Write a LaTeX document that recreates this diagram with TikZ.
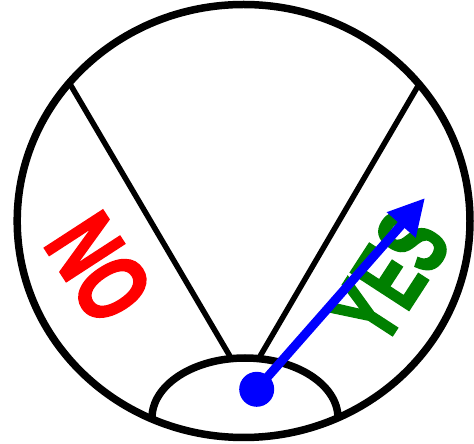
\documentclass[tikz,border=0pt]{standalone}
\usepackage{fontspec}
\setmainfont{Liberation Sans}
\newfontfamily\heavyfont[FakeBold=2.5]{Liberation Sans Bold}
\usetikzlibrary{arrows.meta}
\definecolor{ygreen}{RGB}{0,128,0}
\definecolor{nred}{RGB}{255,0,0}
\definecolor{pblue}{RGB}{0,0,255}
\tikzset{
  rim/.style={draw=black,line width=7.5pt},
  divider/.style={draw=black,line width=5.5pt},
  bigword/.style={inner sep=0pt,font=\fontsize{100}{100}\heavyfont},
  pointer/.style={draw=pblue,line width=9pt,-{Triangle[length=36pt,width=36pt]}}
}
\begin{document}
\begin{tikzpicture}[x=1pt,y=1pt]
\useasboundingbox (0,0) rectangle (474,444);
% dividers
\coordinate (l1) at (70,360);
\coordinate (l2) at (231,86);
\coordinate (r1) at (418,358);
\coordinate (r2) at (259,86);
\draw[divider] (l1) -- (l2);
\draw[divider] (r1) -- (r2);
% hub arc
\coordinate (hub) at (245,26);
\draw[rim] ([xshift=-93pt]hub) arc[start angle=180,end angle=0,x radius=93,y radius=60];
% outer rim
\coordinate (c) at (243.6,223);
\draw[rim] (c) ellipse[x radius=226.4,y radius=216.5];
% labels
\node[bigword,text=nred,rotate=-57] (no) at (99,176) {\scalebox{0.68}[1]{NO}};
\node[bigword,text=ygreen,rotate=57] (yes) at (389,167) {\scalebox{0.64}[1]{YES}};
% pointer
\node[circle,fill=pblue,minimum size=35pt,inner sep=0pt] (dot) at (256.7,54.7) {};
\coordinate (tip) at (425,246);
\draw[pointer] (dot.center) -- (tip);
\end{tikzpicture}
\end{document}
